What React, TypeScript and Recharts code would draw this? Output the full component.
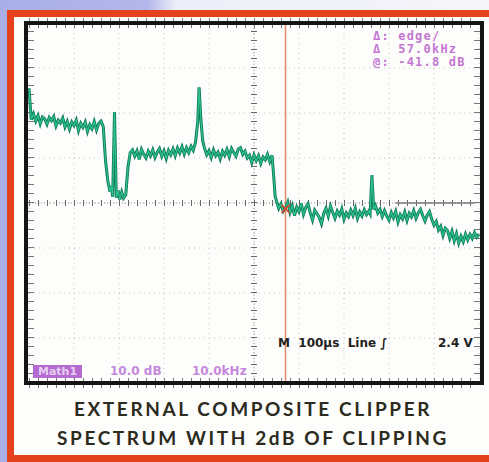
import { LineChart, Line, XAxis, YAxis, CartesianGrid, ReferenceLine, ReferenceDot } from "recharts";

// spectrum: kHz -> dB (10 dB/div, 10 kHz/div)
const freqKHz = [
  // low band
  0, 0.5, 1, 1.5, 2, 2.5, 3, 3.5, 4, 4.5, 5, 5.5, 6, 6.5, 7, 7.5, 8, 8.5, 9, 9.5, 10, 10.5, 11, 11.5, 12, 12.5, 13,
  13.5, 14, 14.5, 15, 15.5, 16, 16.5,
  // notch + pilot
  17, 17.5, 18, 18.3, 18.6, 19, 19.4, 19.8, 20.2, 20.6, 21, 21.5, 22, 22.5,
  // lower sideband
  23, 23.5, 24, 24.5, 25, 25.5, 26, 26.5, 27, 27.5, 28, 28.5, 29, 29.5, 30, 30.5, 31, 31.5, 32, 32.5, 33, 33.5, 34,
  34.5, 35, 35.5, 36, 36.5, 37, 37.5, 37.8, 38.2, 38.6,
  // upper sideband
  39, 39.5, 40, 40.5, 41, 41.5, 42, 42.5, 43, 43.5, 44, 44.5, 45, 45.5, 46, 46.5, 47, 47.5, 48, 48.5, 49, 49.5, 50,
  50.5, 51, 51.5, 52, 52.5, 53, 53.5, 54, 54.3, 54.7,
  // out of band
  55, 55.5, 56, 56.5, 57, 57.5, 58, 58.5, 59, 59.5, 60, 60.5, 61, 61.5, 62, 62.5, 63, 63.5, 64, 64.5, 65, 65.5, 66,
  66.5, 67, 67.5, 68, 68.5, 69, 69.5, 70, 70.5, 71, 71.5, 72, 72.5, 73, 73.5, 74, 74.5, 75, 75.5, 75.8, 76.2, 76.6,
  77, 77.5, 78, 78.5, 79, 79.5, 80, 80.5, 81, 81.5, 82, 82.5, 83, 83.5, 84, 84.5, 85, 85.5, 86, 86.5, 87, 87.5, 88,
  88.5, 89, 89.5, 90, 90.5, 91, 91.5, 92, 92.5, 93, 93.5, 94, 94.5, 95, 95.5, 96, 96.5, 97, 97.5, 98, 98.5, 99,
  99.5, 100,
];
const levelDb = [
  -14.5, -21.5, -20.2, -21.8, -20.6, -22.4, -20.9, -21.3, -22.5, -21.0, -21.7, -20.8, -22.9, -21.6, -22.2, -21.1,
  -23.1, -21.9, -23.6, -22.0, -22.8, -21.6, -23.9, -22.3, -23.2, -22.0, -24.1, -22.6, -23.5, -21.9, -23.8, -22.3,
  -21.8, -23.0,
  -30.5, -35.0, -37.5, -36.2, -38.6, -19.8, -38.8, -37.2, -39.2, -37.6, -38.9, -38.2, -32.0, -28.8,
  -28.2, -29.6, -28.4, -30.3, -28.1, -29.2, -30.0, -28.5, -29.5, -28.2, -29.9, -28.7, -27.9, -29.6, -28.4, -30.1,
  -28.3, -29.3, -28.0, -29.5, -27.8, -28.9, -27.5, -29.1, -27.7, -28.8, -27.4, -28.3, -26.5, -22.0, -14.3, -21.5,
  -26.2,
  -27.8, -29.3, -28.4, -29.9, -28.2, -29.5, -28.7, -30.2, -28.5, -29.4, -28.1, -29.7, -27.9, -28.8, -29.6, -28.0,
  -27.7, -29.2, -28.5, -30.0, -29.4, -31.0, -29.3, -30.6, -29.5, -31.2, -29.8, -30.4, -29.2, -30.8, -29.4, -33.0,
  -38.5,
  -39.6, -41.2, -40.2, -41.8, -41.0, -39.8, -42.1, -40.6, -42.8, -40.9, -41.9, -40.1, -42.5, -41.0, -40.2, -42.2,
  -43.8, -41.6, -42.4, -43.2, -44.6, -42.3, -41.2, -42.9, -40.7, -42.1, -43.4, -41.8, -42.7, -41.3, -43.6, -42.2,
  -43.0, -41.6, -42.8, -41.2, -43.4, -42.0, -42.9, -41.5, -42.6, -41.8, -42.4, -33.8, -41.5,
  -40.6, -42.2, -41.4, -43.0, -41.7, -42.9, -43.8, -42.1, -43.3, -41.9, -44.2, -42.6, -43.5, -42.0, -43.9, -42.3,
  -43.1, -41.7, -43.4, -42.2, -41.4, -42.8, -44.0, -42.7, -41.9, -43.6, -44.9, -44.1, -46.0, -45.2, -47.2, -45.6,
  -46.1, -47.9, -46.3, -48.4, -46.8, -48.9, -47.4, -48.6, -46.9, -48.2, -47.0, -47.9, -46.6, -47.6, -46.9,
];

const xTicks = [0, 10, 20, 30, 40, 50, 60, 70, 80, 90, 100];
const yTicks = [0, -10, -20, -30, -40, -50, -60, -70, -80];
const cursorKHz = 57;
const cursorDb = -41.3;

const data = freqKHz.map((f, i) => ({ f, db: levelDb[i] }));

const purple = "#c476d2";

function CursorX(p: any) {
  const { cx, cy } = p;
  return (
    <g stroke="#e0442a" strokeWidth={1.6}>
      <line x1={cx - 4} y1={cy - 4} x2={cx + 4} y2={cy + 4} />
      <line x1={cx - 4} y1={cy + 4} x2={cx + 4} y2={cy - 4} />
    </g>
  );
}

const smallText = {
  position: "absolute" as const,
  fontFamily: "'DejaVu Sans', sans-serif",
  fontWeight: "bold" as const,
  fontSize: 12,
  whiteSpace: "pre" as const,
};

export default function App() {
  return (
    <div
      style={{
        position: "relative",
        width: 489,
        height: 462,
        overflow: "hidden",
        background: "linear-gradient(to right, #a9aee8 0%, #b3b7ea 30%, #eceef8 36%, #f6f6fa 100%)",
        fontFamily: "Lato, sans-serif",
      }}
    >
      <style>{`body{margin:0}`}</style>
      <div
        style={{
          position: "absolute",
          left: 7,
          top: 10,
          width: 500,
          height: 452,
          boxSizing: "border-box",
          border: "7px solid #e4421c",
          background: "#fdfdfb",
        }}
      />
      <div style={{ position: "absolute", left: 0, top: 0 }}>
        <LineChart width={489} height={462} data={data} margin={{ top: 23, right: 10, bottom: 79, left: 29 }}>
          <XAxis type="number" dataKey="f" domain={[0, 100]} ticks={xTicks} hide />
          <YAxis type="number" domain={[-80, 0]} ticks={yTicks} hide />
          <CartesianGrid stroke="#c4c4c4" strokeDasharray="1 4" />
          <ReferenceLine x={50} stroke="#9a9a9a" strokeDasharray="1 2" />
          <ReferenceLine x={50} stroke="#666" strokeWidth={6} strokeDasharray="1 8" />
          <ReferenceLine y={-40} stroke="#9a9a9a" strokeDasharray="1 2" />
          <ReferenceLine y={-40} stroke="#666" strokeWidth={6} strokeDasharray="1 8" />
          <ReferenceLine x={0} stroke="#777" strokeWidth={10} strokeDasharray="1 8" />
          <ReferenceLine x={100} stroke="#777" strokeWidth={10} strokeDasharray="1 8" />
          <ReferenceLine y={0} stroke="#777" strokeWidth={10} strokeDasharray="1 8" />
          <ReferenceLine y={-80} stroke="#777" strokeWidth={10} strokeDasharray="1 8" />
          <ReferenceLine
            segment={[
              { x: 81.5, y: -40 },
              { x: 99, y: -40 },
            ]}
            stroke="#7a7a7a"
            strokeWidth={1.3}
          />
          <ReferenceLine x={cursorKHz} stroke="#ea8a66" strokeWidth={1.5} />
          <Line type="linear" dataKey="db" stroke="#0d7a58" strokeWidth={3} dot={false} isAnimationActive={false} />
          <Line type="linear" dataKey="db" stroke="#2dbf8c" strokeWidth={1.3} dot={false} isAnimationActive={false} />
          <ReferenceDot x={cursorKHz} y={cursorDb} r={4} shape={CursorX} />
        </LineChart>
      </div>
      <div
        style={{
          position: "absolute",
          left: 24,
          top: 21,
          width: 460,
          height: 364,
          boxSizing: "border-box",
          border: "4px solid #141414",
          pointerEvents: "none",
        }}
      />
      <div
        style={{
          position: "absolute",
          left: 373,
          top: 30,
          color: purple,
          fontFamily: "'DejaVu Sans Mono', monospace",
          fontWeight: "bold",
          fontSize: 12,
          lineHeight: "13px",
          letterSpacing: 1.2,
          whiteSpace: "pre",
        }}
      >
        <div>{"Δ: edge/"}</div>
        <div>{"Δ  57.0kHz"}</div>
        <div>{"@: -41.8 dB"}</div>
      </div>
      <div
        style={{
          position: "absolute",
          left: 33,
          top: 365,
          width: 49,
          height: 13,
          background: "#b56ad0",
          color: "#e6d0f2",
          fontFamily: "'DejaVu Sans', sans-serif",
          fontWeight: "bold",
          fontSize: 11,
          lineHeight: "13px",
          textAlign: "center",
        }}
      >
        Math1
      </div>
      <div style={{ ...smallText, left: 110, top: 364, color: "#c488dc" }}>10.0 dB</div>
      <div style={{ ...smallText, left: 192, top: 364, color: "#c488dc" }}>10.0kHz</div>
      <div style={{ ...smallText, left: 278, top: 336, color: "#222" }}>{"M  100µs  Line ∫"}</div>
      <div style={{ ...smallText, left: 438, top: 336, color: "#222" }}>2.4 V</div>
      <div
        style={{
          position: "absolute",
          left: 0,
          width: 506,
          top: 394,
          textAlign: "center",
          color: "#2b2b1e",
          fontWeight: "bold",
          fontSize: 19,
          lineHeight: "29px",
          letterSpacing: 2.6,
        }}
      >
        <div>EXTERNAL COMPOSITE CLIPPER</div>
        <div>SPECTRUM WITH 2dB OF CLIPPING</div>
      </div>
    </div>
  );
}
